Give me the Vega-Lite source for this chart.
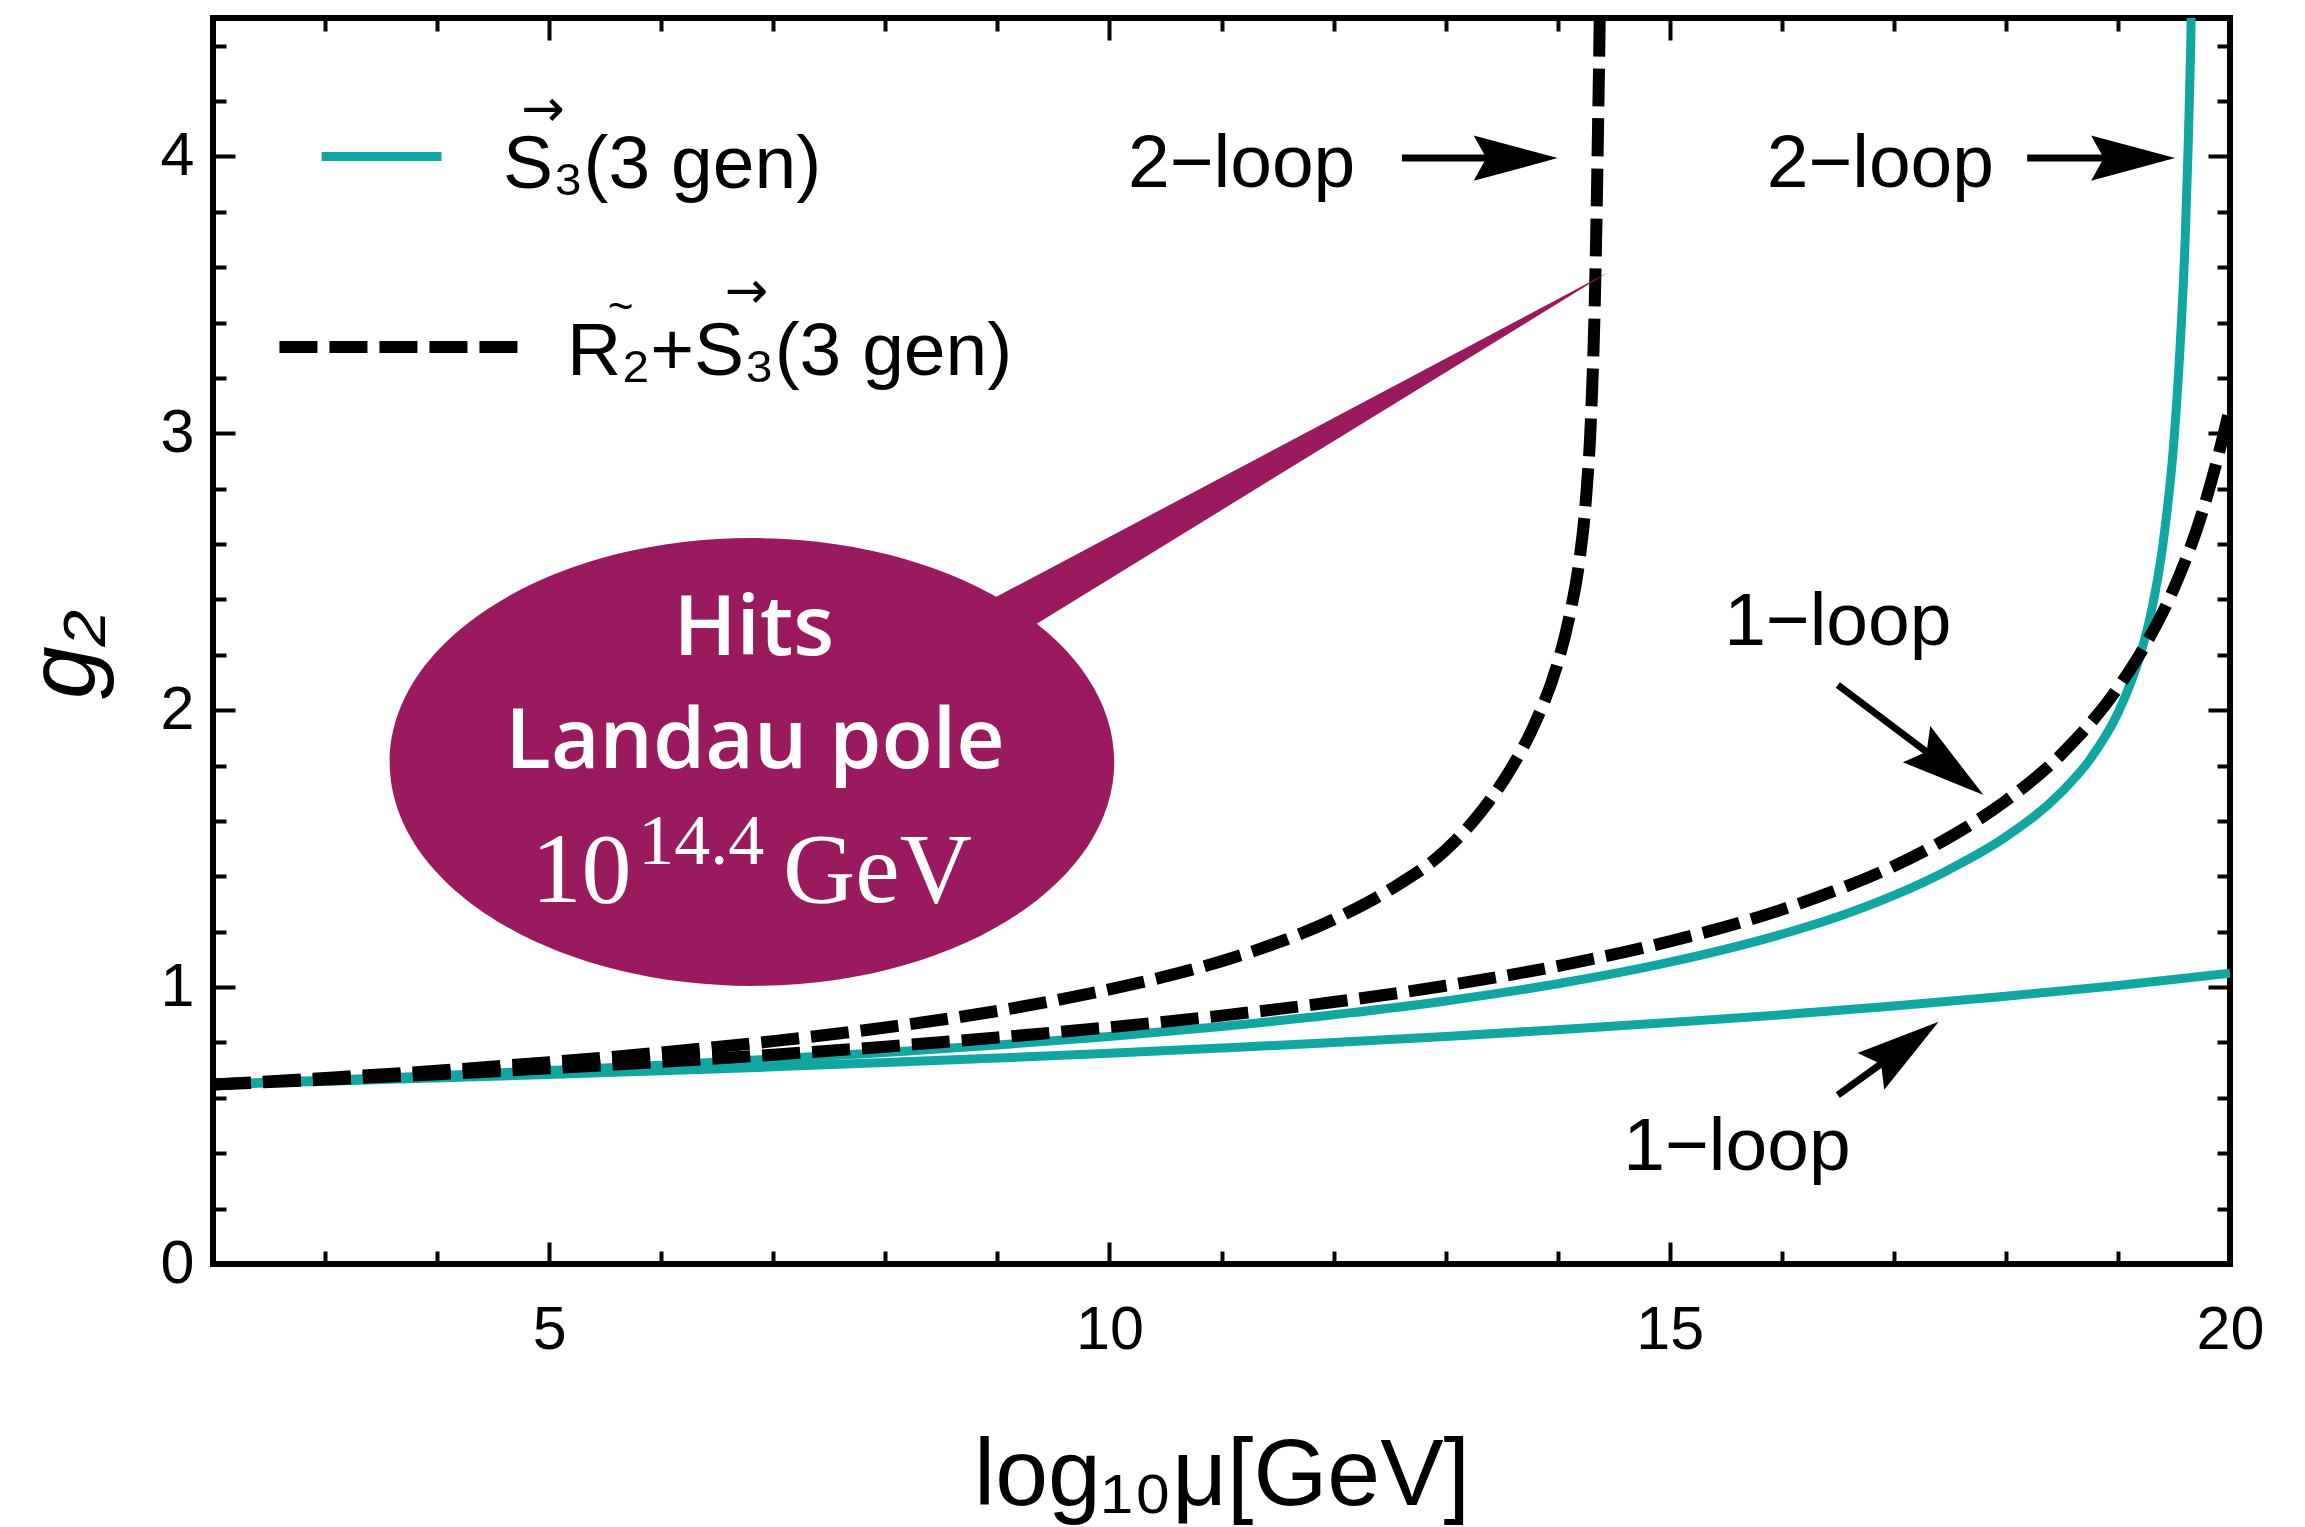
{
  "$schema": "https://vega.github.io/schema/vega-lite/v6.json",
  "width": 2017,
  "height": 1246,
  "autosize": {"type": "none"},
  "padding": {"left": 213, "top": 18, "right": 75, "bottom": 263},
  "background": "white",
  "config": {
    "view": {"stroke": "black", "strokeWidth": 6},
    "axis": {
      "grid": false,
      "domain": false,
      "labelFont": "Liberation Sans",
      "labelFontSize": 61,
      "labelColor": "black",
      "tickColor": "black",
      "tickWidth": 4,
      "titleColor": "black"
    }
  },
  "datasets": {
    "curves": [
      {"model": "S3", "loop": 1, "x": 2, "g": 0.648},
      {"model": "S3", "loop": 1, "x": 3, "g": 0.66},
      {"model": "S3", "loop": 1, "x": 4, "g": 0.672},
      {"model": "S3", "loop": 1, "x": 5, "g": 0.684},
      {"model": "S3", "loop": 1, "x": 6, "g": 0.698},
      {"model": "S3", "loop": 1, "x": 7, "g": 0.712},
      {"model": "S3", "loop": 1, "x": 8, "g": 0.728},
      {"model": "S3", "loop": 1, "x": 9, "g": 0.744},
      {"model": "S3", "loop": 1, "x": 10, "g": 0.761},
      {"model": "S3", "loop": 1, "x": 11, "g": 0.78},
      {"model": "S3", "loop": 1, "x": 12, "g": 0.8},
      {"model": "S3", "loop": 1, "x": 13, "g": 0.822},
      {"model": "S3", "loop": 1, "x": 14, "g": 0.846},
      {"model": "S3", "loop": 1, "x": 15, "g": 0.872},
      {"model": "S3", "loop": 1, "x": 16, "g": 0.9},
      {"model": "S3", "loop": 1, "x": 17, "g": 0.932},
      {"model": "S3", "loop": 1, "x": 18, "g": 0.967},
      {"model": "S3", "loop": 1, "x": 19, "g": 1.006},
      {"model": "S3", "loop": 1, "x": 20, "g": 1.05},

      {"model": "S3", "loop": 2, "x": 2, "g": 0.648},
      {"model": "S3", "loop": 2, "x": 3, "g": 0.664},
      {"model": "S3", "loop": 2, "x": 4, "g": 0.68},
      {"model": "S3", "loop": 2, "x": 5, "g": 0.699},
      {"model": "S3", "loop": 2, "x": 6, "g": 0.718},
      {"model": "S3", "loop": 2, "x": 7, "g": 0.74},
      {"model": "S3", "loop": 2, "x": 8, "g": 0.764},
      {"model": "S3", "loop": 2, "x": 9, "g": 0.791},
      {"model": "S3", "loop": 2, "x": 10, "g": 0.822},
      {"model": "S3", "loop": 2, "x": 11, "g": 0.858},
      {"model": "S3", "loop": 2, "x": 12, "g": 0.9},
      {"model": "S3", "loop": 2, "x": 13, "g": 0.95},
      {"model": "S3", "loop": 2, "x": 14, "g": 1.012},
      {"model": "S3", "loop": 2, "x": 15, "g": 1.09},
      {"model": "S3", "loop": 2, "x": 16, "g": 1.191},
      {"model": "S3", "loop": 2, "x": 16.5, "g": 1.254},
      {"model": "S3", "loop": 2, "x": 17, "g": 1.331},
      {"model": "S3", "loop": 2, "x": 17.5, "g": 1.426},
      {"model": "S3", "loop": 2, "x": 18, "g": 1.543},
      {"model": "S3", "loop": 2, "x": 18.5, "g": 1.706},
      {"model": "S3", "loop": 2, "x": 18.75, "g": 1.822},
      {"model": "S3", "loop": 2, "x": 19, "g": 1.99},
      {"model": "S3", "loop": 2, "x": 19.2, "g": 2.201},
      {"model": "S3", "loop": 2, "x": 19.3, "g": 2.36},
      {"model": "S3", "loop": 2, "x": 19.4, "g": 2.595},
      {"model": "S3", "loop": 2, "x": 19.5, "g": 2.975},
      {"model": "S3", "loop": 2, "x": 19.55, "g": 3.279},
      {"model": "S3", "loop": 2, "x": 19.6, "g": 3.701},
      {"model": "S3", "loop": 2, "x": 19.625, "g": 4.016},
      {"model": "S3", "loop": 2, "x": 19.65, "g": 4.407},
      {"model": "S3", "loop": 2, "x": 19.7, "g": 5.87},

      {"model": "R2S3", "loop": 1, "x": 2, "g": 0.648},
      {"model": "R2S3", "loop": 1, "x": 3, "g": 0.666},
      {"model": "R2S3", "loop": 1, "x": 4, "g": 0.685},
      {"model": "R2S3", "loop": 1, "x": 5, "g": 0.707},
      {"model": "R2S3", "loop": 1, "x": 6, "g": 0.73},
      {"model": "R2S3", "loop": 1, "x": 7, "g": 0.756},
      {"model": "R2S3", "loop": 1, "x": 8, "g": 0.785},
      {"model": "R2S3", "loop": 1, "x": 9, "g": 0.818},
      {"model": "R2S3", "loop": 1, "x": 10, "g": 0.855},
      {"model": "R2S3", "loop": 1, "x": 11, "g": 0.897},
      {"model": "R2S3", "loop": 1, "x": 12, "g": 0.946},
      {"model": "R2S3", "loop": 1, "x": 13, "g": 1.005},
      {"model": "R2S3", "loop": 1, "x": 14, "g": 1.076},
      {"model": "R2S3", "loop": 1, "x": 15, "g": 1.165},
      {"model": "R2S3", "loop": 1, "x": 16, "g": 1.28},
      {"model": "R2S3", "loop": 1, "x": 16.5, "g": 1.352},
      {"model": "R2S3", "loop": 1, "x": 17, "g": 1.437},
      {"model": "R2S3", "loop": 1, "x": 17.5, "g": 1.542},
      {"model": "R2S3", "loop": 1, "x": 18, "g": 1.673},
      {"model": "R2S3", "loop": 1, "x": 18.5, "g": 1.843},
      {"model": "R2S3", "loop": 1, "x": 19, "g": 2.081},
      {"model": "R2S3", "loop": 1, "x": 19.25, "g": 2.24},
      {"model": "R2S3", "loop": 1, "x": 19.5, "g": 2.441},
      {"model": "R2S3", "loop": 1, "x": 19.75, "g": 2.711},
      {"model": "R2S3", "loop": 1, "x": 19.9, "g": 2.927},
      {"model": "R2S3", "loop": 1, "x": 20, "g": 3.093},

      {"model": "R2S3", "loop": 2, "x": 2, "g": 0.648},
      {"model": "R2S3", "loop": 2, "x": 3, "g": 0.672},
      {"model": "R2S3", "loop": 2, "x": 4, "g": 0.698},
      {"model": "R2S3", "loop": 2, "x": 5, "g": 0.729},
      {"model": "R2S3", "loop": 2, "x": 6, "g": 0.764},
      {"model": "R2S3", "loop": 2, "x": 7, "g": 0.805},
      {"model": "R2S3", "loop": 2, "x": 8, "g": 0.854},
      {"model": "R2S3", "loop": 2, "x": 9, "g": 0.914},
      {"model": "R2S3", "loop": 2, "x": 10, "g": 0.992},
      {"model": "R2S3", "loop": 2, "x": 10.5, "g": 1.0385},
      {"model": "R2S3", "loop": 2, "x": 11, "g": 1.0936},
      {"model": "R2S3", "loop": 2, "x": 11.5, "g": 1.1604},
      {"model": "R2S3", "loop": 2, "x": 12, "g": 1.244},
      {"model": "R2S3", "loop": 2, "x": 12.5, "g": 1.351},
      {"model": "R2S3", "loop": 2, "x": 13, "g": 1.495},
      {"model": "R2S3", "loop": 2, "x": 13.3, "g": 1.625},
      {"model": "R2S3", "loop": 2, "x": 13.6, "g": 1.8},
      {"model": "R2S3", "loop": 2, "x": 13.8, "g": 1.955},
      {"model": "R2S3", "loop": 2, "x": 14.0, "g": 2.17},
      {"model": "R2S3", "loop": 2, "x": 14.1, "g": 2.33},
      {"model": "R2S3", "loop": 2, "x": 14.2, "g": 2.56},
      {"model": "R2S3", "loop": 2, "x": 14.25, "g": 2.75},
      {"model": "R2S3", "loop": 2, "x": 14.3, "g": 3.08},
      {"model": "R2S3", "loop": 2, "x": 14.33, "g": 3.45},
      {"model": "R2S3", "loop": 2, "x": 14.36, "g": 4.1},
      {"model": "R2S3", "loop": 2, "x": 14.38, "g": 4.7},
      {"model": "R2S3", "loop": 2, "x": 14.39, "g": 5.3}
    ],
    "legendLines": [
      {"model": "S3", "x": 2.97, "y": 4.0},
      {"model": "S3", "x": 4.04, "y": 4.0},
      {"model": "R2S3", "x": 2.593, "y": 3.312},
      {"model": "R2S3", "x": 4.72, "y": 3.312}
    ],
    "legendLabels": [
      {"x": 4.588, "y": 3.886, "text": "S₃(3 gen)"},
      {"x": 5.159, "y": 3.21, "text": "R₂+S₃(3 gen)"}
    ],
    "arrowAccents": [
      {"x": 4.945, "y": 4.168, "text": "→"},
      {"x": 6.761, "y": 3.51, "text": "→"}
    ],
    "tildeAccents": [
      {"x": 5.637, "y": 3.452, "text": "~"}
    ],
    "notes": [
      {"x": 11.18, "y": 3.889, "text": "2−loop"},
      {"x": 16.88, "y": 3.889, "text": "2−loop"},
      {"x": 16.5, "y": 2.235, "text": "1−loop"},
      {"x": 15.6, "y": 0.3395, "text": "1−loop"}
    ],
    "shafts": [
      {"x": 12.61, "y": 3.994, "x2": 13.75, "y2": 3.994},
      {"x": 18.19, "y": 3.994, "x2": 19.25, "y2": 3.994},
      {"x": 16.5, "y": 2.091, "x2": 17.445, "y2": 1.803},
      {"x": 16.5, "y": 0.61, "x2": 17.04, "y2": 0.768}
    ],
    "heads": [
      {"name": "pole2", "x": 14.0, "y": 3.994},
      {"name": "pole2", "x": 19.51, "y": 3.994},
      {"name": "upper1", "x": 17.8, "y": 1.694},
      {"name": "lower1", "x": 17.4, "y": 0.875}
    ],
    "callout": [
      {"x": 6.81, "y": 1.813}
    ],
    "calloutSans": [
      {"x": 6.826, "y": 2.199, "text": "Hits"},
      {"x": 6.836, "y": 1.791, "text": "Landau pole"}
    ],
    "calloutSerif": [
      {"x": 5.289, "y": 1.307, "text": "10"},
      {"x": 7.93, "y": 1.307, "text": "GeV"}
    ],
    "calloutExp": [
      {"x": 6.358, "y": 1.445, "text": "14.4"}
    ]
  },
  "resolve": {"axis": {"x": "independent", "y": "independent"}},
  "layer": [
    {
      "data": {"name": "curves"},
      "transform": [{"filter": "datum.model == 'S3'"}],
      "mark": {"type": "line", "color": "#12a6a3", "strokeWidth": 9, "interpolate": "monotone", "clip": true},
      "encoding": {
        "x": {
          "field": "x", "type": "quantitative",
          "scale": {"domain": [2, 20], "nice": false, "zero": false},
          "axis": {
            "orient": "bottom", "ticks": false, "labels": true,
            "values": [5, 10, 15, 20], "labelPadding": 36, "labelFlush": false,
            "title": "log₁₀μ[GeV]", "titleFont": "Liberation Sans", "titleFontSize": 95,
            "titleFontWeight": "normal", "titleY": 240, "titleBaseline": "alphabetic"
          }
        },
        "y": {
          "field": "g", "type": "quantitative",
          "scale": {"domain": [0, 4.5], "nice": false, "zero": false},
          "axis": {
            "orient": "left", "ticks": false, "labels": true,
            "values": [0, 1, 2, 3, 4], "labelPadding": 19,
            "title": "g₂", "titleFont": "Liberation Sans", "titleFontSize": 95,
            "titleFontStyle": "italic", "titleFontWeight": "normal",
            "titleAngle": 270, "titleX": -120, "titleY": 636,
            "titleAlign": "center", "titleBaseline": "alphabetic"
          }
        },
        "detail": {"field": "loop"}
      }
    },
    {
      "data": {"name": "curves"},
      "transform": [{"filter": "datum.model == 'R2S3'"}],
      "mark": {"type": "line", "color": "black", "strokeWidth": 12, "strokeDash": [38, 12], "interpolate": "monotone", "clip": true},
      "encoding": {
        "x": {
          "field": "x", "type": "quantitative",
          "scale": {"domain": [2, 20], "nice": false, "zero": false},
          "axis": {"orient": "bottom", "labels": false, "values": [5, 10, 15, 20], "tickSize": -22, "title": null}
        },
        "y": {
          "field": "g", "type": "quantitative",
          "scale": {"domain": [0, 4.5], "nice": false, "zero": false},
          "axis": {"orient": "left", "labels": false, "values": [0, 1, 2, 3, 4], "tickSize": -22, "title": null}
        },
        "detail": {"field": "loop"}
      }
    },
    {
      "data": {"name": "legendLines"},
      "transform": [{"filter": "datum.model == 'S3'"}],
      "mark": {"type": "line", "color": "#12a6a3", "strokeWidth": 9},
      "encoding": {
        "x": {
          "field": "x", "type": "quantitative",
          "scale": {"domain": [2, 20], "nice": false, "zero": false},
          "axis": {"orient": "bottom", "labels": false, "values": [3, 4, 6, 7, 8, 9, 11, 12, 13, 14, 16, 17, 18, 19], "tickSize": -13, "title": null}
        },
        "y": {
          "field": "y", "type": "quantitative",
          "scale": {"domain": [0, 4.5], "nice": false, "zero": false},
          "axis": {"orient": "left", "labels": false, "values": [0.2, 0.4, 0.6, 0.8, 1.2, 1.4, 1.6, 1.8, 2.2, 2.4, 2.6, 2.8, 3.2, 3.4, 3.6, 3.8, 4.2, 4.4], "tickSize": -13, "title": null}
        }
      }
    },
    {
      "data": {"name": "legendLines"},
      "transform": [{"filter": "datum.model == 'R2S3'"}],
      "mark": {"type": "line", "color": "black", "strokeWidth": 12, "strokeDash": [38, 12]},
      "encoding": {
        "x": {"field": "x", "type": "quantitative", "scale": {"domain": [2, 20], "nice": false, "zero": false}, "axis": null},
        "y": {"field": "y", "type": "quantitative", "scale": {"domain": [0, 4.5], "nice": false, "zero": false}, "axis": null}
      }
    },
    {
      "data": {"name": "notes"},
      "mark": {"type": "text", "font": "Liberation Sans", "fontSize": 75, "color": "black", "align": "center", "baseline": "alphabetic"},
      "encoding": {
        "x": {
          "field": "x", "type": "quantitative",
          "scale": {"domain": [2, 20], "nice": false, "zero": false},
          "axis": {"orient": "top", "labels": false, "values": [5, 10, 15, 20], "tickSize": -22, "title": null}
        },
        "y": {
          "field": "y", "type": "quantitative",
          "scale": {"domain": [0, 4.5], "nice": false, "zero": false},
          "axis": {"orient": "right", "labels": false, "values": [0, 1, 2, 3, 4], "tickSize": -22, "title": null}
        },
        "text": {"field": "text"}
      }
    },
    {
      "data": {"name": "legendLabels"},
      "mark": {"type": "text", "font": "Liberation Sans", "fontSize": 75, "color": "black", "align": "left", "baseline": "alphabetic"},
      "encoding": {
        "x": {
          "field": "x", "type": "quantitative",
          "scale": {"domain": [2, 20], "nice": false, "zero": false},
          "axis": {"orient": "top", "labels": false, "values": [3, 4, 6, 7, 8, 9, 11, 12, 13, 14, 16, 17, 18, 19], "tickSize": -13, "title": null}
        },
        "y": {
          "field": "y", "type": "quantitative",
          "scale": {"domain": [0, 4.5], "nice": false, "zero": false},
          "axis": {"orient": "right", "labels": false, "values": [0.2, 0.4, 0.6, 0.8, 1.2, 1.4, 1.6, 1.8, 2.2, 2.4, 2.6, 2.8, 3.2, 3.4, 3.6, 3.8, 4.2, 4.4], "tickSize": -13, "title": null}
        },
        "text": {"field": "text"}
      }
    },
    {
      "data": {"name": "arrowAccents"},
      "mark": {"type": "text", "font": "DejaVu Sans", "fontSize": 52, "color": "black", "align": "center", "baseline": "middle"},
      "encoding": {
        "x": {"field": "x", "type": "quantitative", "scale": {"domain": [2, 20], "nice": false, "zero": false}, "axis": null},
        "y": {"field": "y", "type": "quantitative", "scale": {"domain": [0, 4.5], "nice": false, "zero": false}, "axis": null},
        "text": {"field": "text"}
      }
    },
    {
      "data": {"name": "tildeAccents"},
      "mark": {"type": "text", "font": "Liberation Sans", "fontSize": 44, "color": "black", "align": "center", "baseline": "middle"},
      "encoding": {
        "x": {"field": "x", "type": "quantitative", "scale": {"domain": [2, 20], "nice": false, "zero": false}, "axis": null},
        "y": {"field": "y", "type": "quantitative", "scale": {"domain": [0, 4.5], "nice": false, "zero": false}, "axis": null},
        "text": {"field": "text"}
      }
    },
    {
      "data": {"name": "shafts"},
      "mark": {"type": "rule", "color": "black", "strokeWidth": 7},
      "encoding": {
        "x": {"field": "x", "type": "quantitative", "scale": {"domain": [2, 20], "nice": false, "zero": false}, "axis": null},
        "y": {"field": "y", "type": "quantitative", "scale": {"domain": [0, 4.5], "nice": false, "zero": false}, "axis": null},
        "x2": {"field": "x2"},
        "y2": {"field": "y2"}
      }
    },
    {
      "data": {"name": "heads"},
      "transform": [{"filter": "datum.name == 'pole2'"}],
      "mark": {"type": "point", "shape": "M0,0L-2,-0.54L-1.7,0L-2,0.54Z", "size": 7056, "filled": true, "color": "black", "opacity": 1, "angle": 0},
      "encoding": {
        "x": {"field": "x", "type": "quantitative", "scale": {"domain": [2, 20], "nice": false, "zero": false}, "axis": null},
        "y": {"field": "y", "type": "quantitative", "scale": {"domain": [0, 4.5], "nice": false, "zero": false}, "axis": null}
      }
    },
    {
      "data": {"name": "heads"},
      "transform": [{"filter": "datum.name == 'upper1'"}],
      "mark": {"type": "point", "shape": "M0,0L-2,-0.54L-1.7,0L-2,0.54Z", "size": 7056, "filled": true, "color": "black", "opacity": 1, "angle": 37.2},
      "encoding": {
        "x": {"field": "x", "type": "quantitative", "scale": {"domain": [2, 20], "nice": false, "zero": false}, "axis": null},
        "y": {"field": "y", "type": "quantitative", "scale": {"domain": [0, 4.5], "nice": false, "zero": false}, "axis": null}
      }
    },
    {
      "data": {"name": "heads"},
      "transform": [{"filter": "datum.name == 'lower1'"}],
      "mark": {"type": "point", "shape": "M0,0L-2,-0.54L-1.7,0L-2,0.54Z", "size": 7056, "filled": true, "color": "black", "opacity": 1, "angle": -36.2},
      "encoding": {
        "x": {"field": "x", "type": "quantitative", "scale": {"domain": [2, 20], "nice": false, "zero": false}, "axis": null},
        "y": {"field": "y", "type": "quantitative", "scale": {"domain": [0, 4.5], "nice": false, "zero": false}, "axis": null}
      }
    },
    {
      "data": {"name": "callout"},
      "mark": {
        "type": "point",
        "shape": "M1,0C1,0.3413 0.5523,0.618 0,0.618C-0.5523,0.618 -1,0.3413 -1,0C-1,-0.3413 -0.5523,-0.618 0,-0.618C0.5523,-0.618 1,-0.3413 1,0ZM0.6315,-0.4331L2.3635,-1.3516L0.7468,-0.3575Z",
        "size": 525000, "filled": true, "color": "#9a1a5e", "opacity": 1, "strokeWidth": 0
      },
      "encoding": {
        "x": {"field": "x", "type": "quantitative", "scale": {"domain": [2, 20], "nice": false, "zero": false}, "axis": null},
        "y": {"field": "y", "type": "quantitative", "scale": {"domain": [0, 4.5], "nice": false, "zero": false}, "axis": null}
      }
    },
    {
      "data": {"name": "calloutSans"},
      "mark": {"type": "text", "font": "Open Sans", "fontWeight": 600, "fontSize": 84, "color": "white", "align": "center", "baseline": "alphabetic"},
      "encoding": {
        "x": {"field": "x", "type": "quantitative", "scale": {"domain": [2, 20], "nice": false, "zero": false}, "axis": null},
        "y": {"field": "y", "type": "quantitative", "scale": {"domain": [0, 4.5], "nice": false, "zero": false}, "axis": null},
        "text": {"field": "text"}
      }
    },
    {
      "data": {"name": "calloutSerif"},
      "mark": {"type": "text", "font": "Liberation Serif", "fontSize": 100, "color": "white", "align": "center", "baseline": "alphabetic"},
      "encoding": {
        "x": {"field": "x", "type": "quantitative", "scale": {"domain": [2, 20], "nice": false, "zero": false}, "axis": null},
        "y": {"field": "y", "type": "quantitative", "scale": {"domain": [0, 4.5], "nice": false, "zero": false}, "axis": null},
        "text": {"field": "text"}
      }
    },
    {
      "data": {"name": "calloutExp"},
      "mark": {"type": "text", "font": "Liberation Serif", "fontSize": 72, "color": "white", "align": "center", "baseline": "alphabetic"},
      "encoding": {
        "x": {"field": "x", "type": "quantitative", "scale": {"domain": [2, 20], "nice": false, "zero": false}, "axis": null},
        "y": {"field": "y", "type": "quantitative", "scale": {"domain": [0, 4.5], "nice": false, "zero": false}, "axis": null},
        "text": {"field": "text"}
      }
    }
  ]
}
